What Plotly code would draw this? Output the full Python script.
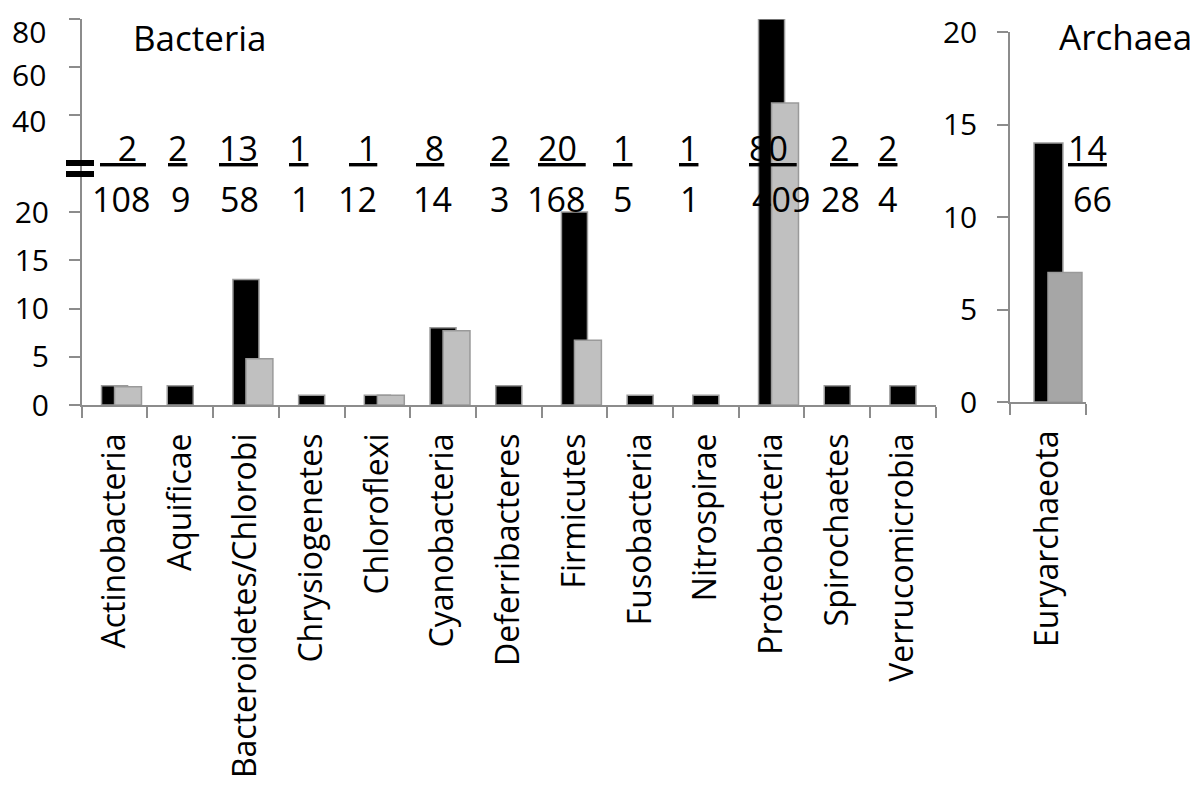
import plotly.graph_objects as go

# Данные: бактерии
bacteria = ['Actinobacteria', 'Aquificae', 'Bacteroidetes/Chlorobi', 'Chrysiogenetes',
            'Chloroflexi', 'Cyanobacteria', 'Deferribacteres', 'Firmicutes',
            'Fusobacteria', 'Nitrospirae', 'Proteobacteria', 'Spirochaetes',
            'Verrucomicrobia']
bact_black = [2, 2, 13, 1, 1, 8, 2, 20, 1, 1, 80, 2, 2]
bact_gray = [1.9, None, 4.8, None, 1.0, 7.7, None, 6.7, None, None, 45, None, None]
bact_denom = ['108', '9', '58', '1', '12', '14', '3', '168', '5', '1', '409', '28', '4']
upper_ticks = [40, 60, 80]
lower_ticks = [0, 5, 10, 15, 20]

# Данные: археи
archaea = ['Euryarchaeota']
arch_black = [14]
arch_gray = [7]
arch_denom = ['66']
arch_ticks = [0, 5, 10, 15, 20]

W, H = 1200, 795
OFF = 8  # отступ body в браузере
FONT = 'Open Sans'
AXIS_COL = '#8c8c8c'


def px(x):
    return (x - OFF) / W


def py(y):
    return 1 - (y - OFF) / H


# Раскладка дробей (пиксели) и отступы подчеркивания
num_pad = [(2, 1), (0, 0), (0, 0), (0, 0), (1, 0), (1, 0), (0, 0), (0, 1),
           (0, 0), (0, 0), (0, 1), (0, 1), (0, 0)]
num_x = [123, 177.5, 238, 298.5, 362.5, 429.5, 499.5, 561.5, 622.5, 688, 773, 844, 887]
den_x = [121, 180, 239, 300, 357, 432, 500, 556, 622, 689, 781, 840, 888]
arch_num_x, arch_den_x = [1087], [1092]
# подписи верхней оси в оригинале сдвинуты вниз относительно рисок
upper_label_shift = [-2.1, -3.3, -5.0]

fig = go.Figure()

bar_line = dict(color='#9a9a9a', width=1.5)
for yax in ['y', 'y2']:
    fig.add_trace(go.Bar(x=bacteria, y=bact_black, xaxis='x', yaxis=yax,
                         width=0.396, offset=-0.198,
                         marker=dict(color='black', line=bar_line)))
    fig.add_trace(go.Bar(x=bacteria, y=bact_gray, xaxis='x', yaxis=yax,
                         width=0.41, offset=0.0,
                         marker=dict(color='#c0c0c0', line=bar_line)))

fig.add_trace(go.Bar(x=archaea, y=arch_black, xaxis='x2', yaxis='y3',
                     width=0.38, offset=-0.184,
                     marker=dict(color='black', line=bar_line)))
fig.add_trace(go.Bar(x=archaea, y=arch_gray, xaxis='x2', yaxis='y3',
                     width=0.447, offset=0.0,
                     marker=dict(color='#a6a6a6', line=bar_line)))

ax_common = dict(showline=True, linecolor=AXIS_COL, linewidth=1.5,
                 ticks='outside', ticklen=11, tickcolor=AXIS_COL, tickwidth=1.5,
                 showgrid=False, zeroline=False, automargin=False,
                 ticklabeloverflow='allow',
                 tickfont=dict(family=FONT, size=30, color='black'))
cat_font = dict(family=FONT, size=32, color='black')

fig.update_layout(
    width=W, height=H,
    margin=dict(l=0, r=0, t=0, b=0),
    plot_bgcolor='white', paper_bgcolor='white',
    barmode='overlay', showlegend=False,
    xaxis=dict(ax_common, type='category', domain=[px(81.7), px(935.8)],
               anchor='y', tickson='boundaries', tickangle=-90,
               ticklabelstandoff=14, tickfont=cat_font),
    yaxis=dict(ax_common, domain=[py(405), py(152)], range=[0, 26.22],
               anchor='x', tickvals=lower_ticks, ticklabelstandoff=14),
    yaxis2=dict(ax_common, domain=[py(152), py(19)], range=[24.58, 80],
                anchor='x', tickvals=upper_ticks, showticklabels=False),
    xaxis2=dict(ax_common, type='category', domain=[px(1010), px(1086)],
                anchor='y3', tickson='boundaries', tickangle=-90,
                ticklabelstandoff=14, tickfont=cat_font),
    yaxis3=dict(ax_common, domain=[py(402), py(32)], range=[0, 20],
                anchor='x2', tickvals=arch_ticks, ticklabelstandoff=14),
)

# Подписи верхней части оси (после разрыва)
for t, s in zip(upper_ticks, upper_label_shift):
    fig.add_annotation(text=str(t), xref='paper', yref='y2', x=px(48), y=t + s,
                       xanchor='right', yanchor='middle', showarrow=False,
                       font=dict(family=FONT, size=30, color='black'))

# Заголовки панелей
fig.add_annotation(text='Bacteria', xref='paper', yref='paper', x=px(131), y=py(38),
                   xanchor='left', yanchor='middle', showarrow=False,
                   font=dict(family=FONT, size=35, color='black'))
fig.add_annotation(text='Archaea', xref='paper', yref='paper', x=px(1057), y=py(37),
                   xanchor='left', yanchor='middle', showarrow=False,
                   font=dict(family=FONT, size=35, color='black'))

# Дроби над столбцами
frac_font = dict(family=FONT, size=34, color='black')
nums = [str(v) for v in bact_black] + [str(v) for v in arch_black]
dens = bact_denom + arch_denom
pads = num_pad + [(0, 0)]
nx = num_x + arch_num_x
dx = den_x + arch_den_x
for n, d, (pl, pr), xn, xd in zip(nums, dens, pads, nx, dx):
    txt = '&nbsp;' * pl + n + '&nbsp;' * pr
    fig.add_annotation(text='<u>' + txt + '</u>', xref='paper', yref='paper',
                       x=px(xn), y=py(148), xanchor='center', yanchor='middle',
                       showarrow=False, font=frac_font)
    fig.add_annotation(text=d, xref='paper', yref='paper',
                       x=px(xd), y=py(199), xanchor='center', yanchor='middle',
                       showarrow=False, font=frac_font)

# Знак разрыва оси
for y0, y1 in [(160, 166), (171, 177)]:
    fig.add_shape(type='rect', xref='paper', yref='paper',
                  x0=px(66), x1=px(94), y0=py(y1), y1=py(y0),
                  fillcolor='black', line=dict(width=0))

fig.write_html('out.html')
